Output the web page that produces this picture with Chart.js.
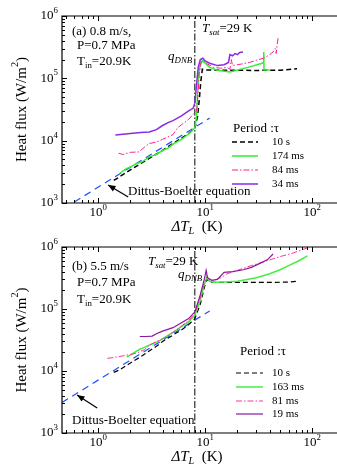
<!DOCTYPE html>
<html>
<head>
<meta charset="utf-8">
<script src="https://cdn.jsdelivr.net/npm/chart.js@4.4.1/dist/chart.umd.min.js"></script>
<style>
  body { margin: 0; background: #fff; overflow: hidden; }
  canvas { display: block; }
</style>
</head>
<body>
<canvas id="chartA" width="337" height="235"></canvas>
<canvas id="chartB" width="337" height="235"></canvas>
<script>
// ---- data (dT in K, q in W/m2) ----
const xTicks = [1, 10, 100];
const yTicks = [1e3, 1e4, 1e5, 1e6];
const tSatLine = 8.0;

// panel (a) 0.8 m/s
const aDbT = [0.6, 11];
const aDbQ = [1040, 23000];
const a10sT = [1.4, 2, 3, 4, 5, 6, 7, 8, 8.5, 8.8, 9.1, 9.4, 10, 15, 30, 50, 72];
const a10sQ = [2300, 3400, 5200, 7000, 9000, 11000, 13000, 16000, 25000, 45000, 90000, 140000, 136000, 135000, 134000, 135000, 142000];
const a174T = [1.6, 1.8, 2, 2.3, 2.6, 3, 3.5, 4, 4.5, 5, 6, 7, 8, 8.3, 8.5, 8.7, 9, 9.4, 10, 11, 13, 17, 25, 34, 35, 35.2, 35.4, 40];
const a174Q = [3000, 3500, 3800, 4300, 4600, 5500, 6000, 7000, 7600, 8800, 10500, 12800, 16000, 25000, 60000, 120000, 170000, 190000, 175000, 150000, 135000, 126000, 150000, 175000, 180000, 265000, 136000, 136000];
const a84T = [1.55, 1.7, 2, 2.4, 2.7, 3, 3.5, 4, 4.5, 5, 5.5, 6, 7, 7.8, 8.3, 8.6, 8.8, 9.2, 9.6, 10.5, 12, 14, 16, 17, 17.5, 18, 22, 26, 30, 35, 40, 43, 45, 46, 47, 48];
const a84Q = [6300, 6000, 6500, 6600, 7800, 9000, 9500, 10500, 11500, 12500, 16000, 18000, 22000, 27000, 30000, 60000, 120000, 190000, 195000, 170000, 150000, 145000, 150000, 140000, 200000, 160000, 170000, 180000, 195000, 210000, 240000, 265000, 300000, 250000, 350000, 460000];
const a34T = [1.45, 2, 2.5, 3, 3.5, 4, 4.5, 5, 6, 7, 7.7, 8, 8.3, 8.6, 9, 9.5, 10, 11, 13, 15, 16.5, 17, 18, 19, 20, 21, 22.5];
const a34Q = [12300, 13000, 13500, 13800, 15000, 17500, 19500, 21000, 25000, 30000, 33000, 40000, 80000, 150000, 200000, 210000, 190000, 175000, 160000, 165000, 180000, 240000, 230000, 250000, 240000, 260000, 265000];

// panel (b) 5.5 m/s
const bDbT = [0.46, 11];
const bDbQ = [3100, 93000];
const b10sT = [1.4, 1.6, 2, 2.5, 3, 3.5, 4, 5, 6, 7, 8, 9, 9.8, 10.3, 10.6, 11, 15, 25, 40, 60, 72];
const b10sQ = [9500, 10500, 13500, 17000, 21000, 25000, 30000, 38000, 46000, 56000, 70000, 120000, 220000, 300000, 290000, 270000, 268000, 268000, 268000, 272000, 280000];
const b163T = [1.85, 2.1, 2.4, 2.7, 3, 3.5, 4, 5, 6, 7, 8, 9, 9.8, 10.4, 11, 12, 15, 20, 30, 40, 50, 60, 75, 90];
const b163Q = [16800, 19000, 22000, 24000, 26000, 29000, 33000, 42000, 52000, 62000, 80000, 140000, 250000, 330000, 280000, 270000, 272000, 280000, 320000, 370000, 430000, 500000, 600000, 720000];
const b81T = [1.22, 1.4, 1.7, 2, 2.3, 2.7, 3, 3.5, 4, 5, 6, 7, 8, 9, 9.8, 10.3, 11, 12, 14, 16, 20, 25, 32, 40, 50, 66, 80, 95];
const b81Q = [16000, 16500, 17500, 18500, 19500, 22000, 26000, 30000, 33000, 42000, 53000, 65000, 85000, 150000, 250000, 330000, 300000, 290000, 320000, 370000, 420000, 480000, 550000, 620000, 700000, 800000, 900000, 1000000];
const b19T = [2.45, 2.8, 3.2, 3.5, 4, 5, 6, 7, 8, 9, 9.8, 10.2, 10.5, 11.5, 13, 15, 18, 22.7, 27, 32, 38, 43];
const b19Q = [36000, 36000, 36500, 40000, 44000, 50000, 60000, 70000, 90000, 170000, 300000, 420000, 320000, 290000, 300000, 390000, 400000, 430000, 470000, 540000, 620000, 770000];

const SERIF = '"Liberation Serif", "DejaVu Serif", serif';

function pts(ts, qs) {
  return ts.map((t, i) => ({ x: t, y: qs[i] }));
}

// draw a row of text pieces; each piece may be italic and/or subscript/superscript
function rich(ctx, x, y, parts, size, align) {
  const widths = parts.map(p => {
    const s = p.sub || p.sup ? size * 0.68 : size;
    ctx.font = (p.it ? 'italic ' : '') + s + 'px ' + SERIF;
    return ctx.measureText(p.t).width;
  });
  const total = widths.reduce((a, b) => a + b, 0);
  let cx = align === 'center' ? x - total / 2 : align === 'right' ? x - total : x;
  ctx.textAlign = 'left';
  ctx.textBaseline = 'middle';
  parts.forEach((p, i) => {
    const s = p.sub || p.sup ? size * 0.68 : size;
    ctx.font = (p.it ? 'italic ' : '') + s + 'px ' + SERIF;
    const dy = p.sub ? size * 0.3 : p.sup ? -size * 0.42 : 0;
    ctx.fillText(p.t, cx, y + dy);
    cx += widths[i];
  });
}

function arrow(ctx, x1, y1, x2, y2) {
  const ang = Math.atan2(y2 - y1, x2 - x1);
  ctx.beginPath();
  ctx.moveTo(x1, y1);
  ctx.lineTo(x2, y2);
  ctx.stroke();
  ctx.beginPath();
  ctx.moveTo(x2, y2);
  ctx.lineTo(x2 - 8 * Math.cos(ang - 0.4), y2 - 8 * Math.sin(ang - 0.4));
  ctx.lineTo(x2 - 8 * Math.cos(ang + 0.4), y2 - 8 * Math.sin(ang + 0.4));
  ctx.closePath();
  ctx.fill();
}

// frame, inward ticks, tick labels, titles and annotations
function decorPlugin(cfg) {
  return {
    id: 'decor',
    afterDraw(chart) {
      const { ctx, chartArea: a, scales: { x, y } } = chart;
      ctx.save();
      ctx.strokeStyle = '#000';
      ctx.fillStyle = '#000';
      ctx.lineWidth = 1.2;
      ctx.beginPath();
      ctx.moveTo(a.right + 2, a.top);
      ctx.lineTo(a.left, a.top);
      ctx.lineTo(a.left, a.bottom);
      ctx.lineTo(a.right + 2, a.bottom);
      ctx.stroke();

      ctx.lineWidth = 1;
      ctx.beginPath();
      for (let d = -1; d <= 2; d++) {
        for (let m = 1; m <= 9; m++) {
          const v = m * Math.pow(10, d);
          if (v < x.min || v > x.max) continue;
          const px = Math.round(x.getPixelForValue(v)) + 0.5;
          const len = m === 1 ? 5 : 3;
          ctx.moveTo(px, a.bottom); ctx.lineTo(px, a.bottom - len);
          ctx.moveTo(px, a.top); ctx.lineTo(px, a.top + len);
        }
      }
      for (let d = 3; d <= 6; d++) {
        for (let m = 1; m <= 9; m++) {
          const v = m * Math.pow(10, d);
          if (v < y.min || v > y.max) continue;
          const py = Math.round(y.getPixelForValue(v)) + 0.5;
          const len = m === 1 ? 5 : 3;
          ctx.moveTo(a.left, py); ctx.lineTo(a.left + len, py);
        }
      }
      ctx.stroke();

      xTicks.forEach(v => {
        rich(ctx, x.getPixelForValue(v), a.bottom + 10,
          [{ t: '10' }, { t: String(Math.round(Math.log10(v))), sup: true }], 13, 'center');
      });
      yTicks.forEach(v => {
        rich(ctx, a.left - 4, y.getPixelForValue(v),
          [{ t: '10' }, { t: String(Math.round(Math.log10(v))), sup: true }], 13, 'right');
      });

      // axis titles
      rich(ctx, 197, a.bottom + 24,
        [{ t: '\u0394T', it: true }, { t: 'L', it: true, sub: true }, { t: '  (K)' }], 15, 'center');
      ctx.save();
      ctx.translate(22, (a.top + a.bottom) / 2);
      ctx.rotate(-Math.PI / 2);
      rich(ctx, 0, 0, [{ t: 'Heat flux (W/m' }, { t: '2', sup: true }, { t: ')' }], 15, 'center');
      ctx.restore();

      // case labels
      cfg.lines.forEach(l => rich(ctx, l.x, l.y, l.parts, 13, 'left'));

      // legend
      const lg = cfg.legend;
      rich(ctx, lg.x, lg.y, [{ t: 'Period :\u03c4' }], 13, 'left');
      chart.data.datasets.forEach((ds, i) => {
        if (!ds.label) return;
        const ly = lg.rows[ds.legendRow];
        ctx.save();
        ctx.strokeStyle = ds.borderColor;
        ctx.lineWidth = ds.borderWidth;
        ctx.setLineDash(ds.borderDash || []);
        ctx.beginPath();
        ctx.moveTo(lg.lx1, ly);
        ctx.lineTo(lg.lx2, ly);
        ctx.stroke();
        ctx.restore();
        rich(ctx, lg.tx, ly, [{ t: ds.label }], 11, 'left');
      });

      // Dittus-Boelter arrow (end points in data units)
      const ar = cfg.arrow;
      ctx.lineWidth = 1.2;
      arrow(ctx, x.getPixelForValue(ar.from[0]), y.getPixelForValue(ar.from[1]),
        x.getPixelForValue(ar.to[0]), y.getPixelForValue(ar.to[1]));
      rich(ctx, ar.tx, ar.ty, [{ t: 'Dittus-Boelter equation' }], 13, 'left');
      ctx.restore();
    }
  };
}

function lineDs(label, ts, qs, color, width, dash, row, order) {
  return {
    label: label, legendRow: row, order: order,
    data: pts(ts, qs),
    borderColor: color, borderWidth: width, borderDash: dash,
    pointRadius: 0, fill: false, tension: 0
  };
}

function makeChart(id, pad, datasets, cfg) {
  datasets.push({
    data: pts([0.46, 11], [0, 0]).slice(0, 0), // placeholder removed below
  });
  datasets.pop();
  return new Chart(document.getElementById(id), {
    type: 'line',
    data: { datasets: datasets },
    options: {
      responsive: false,
      animation: false,
      layout: { padding: pad },
      plugins: { legend: { display: false }, tooltip: { enabled: false } },
      scales: {
        x: { type: 'logarithmic', display: false, min: 0.46, max: 170 },
        y: { type: 'logarithmic', display: false, min: 1e3, max: 1e6 }
      }
    },
    plugins: [decorPlugin(cfg)]
  });
}

const dashDot = [6, 2, 1.5, 2];
const tSatDs = () => ({
  data: pts([tSatLine, tSatLine], [1e3, 1e6]),
  borderColor: '#000', borderWidth: 1, borderDash: [7, 2, 1.5, 2],
  pointRadius: 0, fill: false, order: 9
});

makeChart('chartA', { left: 62, right: 0, top: 16, bottom: 32 }, [
  lineDs('34 ms', a34T, a34Q, '#8a2be2', 1.5, [], 3, 1),
  lineDs('84 ms', a84T, a84Q, '#ff1f8f', 1, dashDot, 2, 2),
  lineDs('174 ms', a174T, a174Q, '#33ee33', 1.5, [], 1, 3),
  lineDs('10 s', a10sT, a10sQ, '#000', 1.5, [5, 3], 0, 4),
  { data: pts(aDbT, aDbQ), borderColor: '#1f4fff', borderWidth: 1.2, borderDash: [7, 5], pointRadius: 0, order: 5 },
  tSatDs()
], {
  lines: [
    { x: 72, y: 32, parts: [{ t: '(a) 0.8 m/s,' }] },
    { x: 77, y: 46, parts: [{ t: 'P=0.7 MPa' }] },
    { x: 77, y: 62, parts: [{ t: 'T' }, { t: 'in', sub: true }, { t: '=20.9K' }] },
    { x: 202, y: 29, parts: [{ t: 'T', it: true }, { t: 'sat', it: true, sub: true }, { t: '=29 K' }] },
    { x: 168, y: 57, parts: [{ t: 'q', it: true }, { t: 'DNB', it: true, sub: true }] }
  ],
  legend: { x: 233, y: 129, lx1: 232, lx2: 258, tx: 272, rows: [142, 156, 170, 184] },
  arrow: { from: [1.91, 1250], to: [1.24, 1950], tx: 128, ty: 192 }
});

makeChart('chartB', { left: 62, right: 0, top: 12, bottom: 37 }, [
  lineDs('19 ms', b19T, b19Q, '#8b1a9b', 1.2, [], 3, 1),
  lineDs('81 ms', b81T, b81Q, '#ff3399', 1, dashDot, 2, 2),
  lineDs('163 ms', b163T, b163Q, '#44ee44', 1.5, [], 1, 3),
  lineDs('10 s', b10sT, b10sQ, '#000', 1.2, [5, 3], 0, 4),
  { data: pts(bDbT, bDbQ), borderColor: '#1f4fff', borderWidth: 1.2, borderDash: [7, 5], pointRadius: 0, order: 5 },
  tSatDs()
], {
  lines: [
    { x: 72, y: 32, parts: [{ t: '(b) 5.5 m/s' }] },
    { x: 77, y: 48, parts: [{ t: 'P=0.7 MPa' }] },
    { x: 77, y: 65, parts: [{ t: 'T' }, { t: 'in', sub: true }, { t: '=20.9K' }] },
    { x: 148, y: 27, parts: [{ t: 'T', it: true }, { t: 'sat', it: true, sub: true }, { t: '=29 K' }] },
    { x: 178, y: 40, parts: [{ t: 'q', it: true }, { t: 'DNB', it: true, sub: true }] }
  ],
  legend: { x: 240, y: 117, lx1: 236, lx2: 263, tx: 272, rows: [138, 152, 166, 179] },
  arrow: { from: [0.98, 2530], to: [0.636, 4100], tx: 72, ty: 186 }
});
</script>
</body>
</html>
